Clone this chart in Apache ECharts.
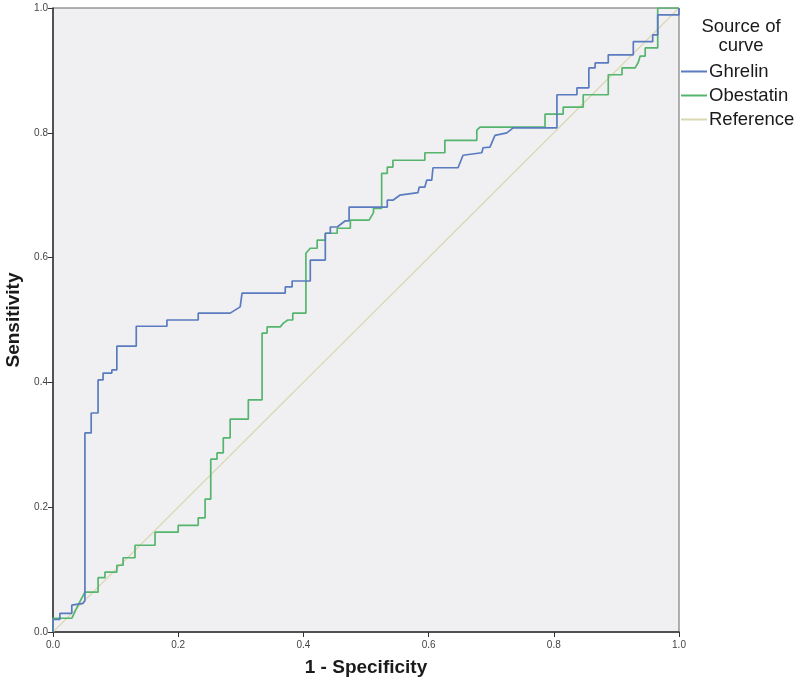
<!DOCTYPE html>
<html>
<head>
<meta charset="utf-8">
<script src="https://cdn.jsdelivr.net/npm/echarts@6/dist/echarts.min.js"></script>
<style>html,body{margin:0;padding:0;background:#fff}#c{width:800px;height:684px}</style>
</head>
<body>
<div id="c"></div>
<script>
// ROC curve data (1 - specificity, sensitivity)
var ghrelinX = [0,0,0.011,0.011,0.030,0.030,0.048,0.051,0.051,0.061,0.061,0.072,0.072,0.080,0.080,0.094,0.094,0.102,0.102,0.133,0.133,0.182,0.182,0.232,0.232,0.283,0.299,0.302,0.302,0.371,0.371,0.382,0.382,0.411,0.411,0.435,0.435,0.443,0.443,0.454,0.467,0.473,0.473,0.534,0.534,0.543,0.554,0.583,0.585,0.594,0.597,0.605,0.607,0.647,0.655,0.685,0.687,0.698,0.706,0.725,0.735,0.805,0.805,0.837,0.837,0.856,0.856,0.866,0.866,0.887,0.887,0.927,0.927,0.958,0.958,0.966,0.966,1,1];
var ghrelinY = [0,0.020,0.020,0.030,0.030,0.043,0.046,0.050,0.319,0.319,0.351,0.351,0.404,0.404,0.415,0.415,0.420,0.420,0.458,0.458,0.490,0.490,0.500,0.500,0.511,0.511,0.521,0.521,0.543,0.543,0.553,0.553,0.5625,0.5625,0.596,0.596,0.639,0.639,0.649,0.649,0.659,0.659,0.681,0.681,0.692,0.692,0.700,0.704,0.713,0.713,0.724,0.724,0.744,0.744,0.764,0.768,0.776,0.777,0.796,0.800,0.808,0.808,0.861,0.861,0.872,0.872,0.904,0.904,0.912,0.912,0.925,0.925,0.946,0.946,0.957,0.957,0.989,0.989,1];
var obestatinX = [0,0,0.030,0.040,0.051,0.072,0.072,0.083,0.083,0.102,0.102,0.112,0.112,0.131,0.131,0.163,0.163,0.200,0.200,0.232,0.232,0.243,0.243,0.252,0.252,0.262,0.262,0.272,0.272,0.283,0.283,0.312,0.312,0.334,0.334,0.342,0.342,0.363,0.368,0.375,0.383,0.383,0.404,0.404,0.411,0.422,0.422,0.435,0.435,0.454,0.454,0.475,0.475,0.505,0.512,0.512,0.525,0.525,0.534,0.534,0.543,0.543,0.594,0.594,0.626,0.626,0.677,0.677,0.682,0.786,0.786,0.815,0.815,0.847,0.847,0.887,0.887,0.909,0.909,0.930,0.935,0.938,0.946,0.946,0.966,0.966,1];
var obestatinY = [0,0.022,0.022,0.043,0.064,0.064,0.087,0.087,0.096,0.096,0.107,0.107,0.119,0.119,0.139,0.139,0.160,0.160,0.171,0.171,0.183,0.183,0.213,0.213,0.277,0.277,0.287,0.287,0.311,0.311,0.341,0.341,0.372,0.372,0.479,0.479,0.489,0.489,0.495,0.500,0.500,0.511,0.511,0.607,0.615,0.615,0.628,0.628,0.639,0.639,0.647,0.647,0.660,0.660,0.672,0.679,0.679,0.735,0.735,0.745,0.745,0.756,0.756,0.768,0.768,0.788,0.788,0.804,0.809,0.809,0.830,0.830,0.841,0.841,0.861,0.861,0.893,0.893,0.904,0.904,0.913,0.923,0.923,0.936,0.936,1.0,1.0];
var referenceX = [0,1];
var referenceY = [0,1];
var tickValues = [0,0.2,0.4,0.6,0.8,1.0];

function pairs(xs, ys){ return xs.map(function(x,i){ return [x, ys[i]]; }); }

var font = 'Arial, "Liberation Sans", sans-serif';
var chart = echarts.init(document.getElementById('c'), null, {renderer:'canvas'});
var axisCommon = {
  type:'value', min:tickValues[0], max:tickValues[tickValues.length-1], interval:0.2,
  axisLine:{show:true, onZero:false, lineStyle:{color:'#333', width:1.5}},
  axisTick:{show:true, length:5, lineStyle:{color:'#333', width:1}},
  axisLabel:{fontSize:10, color:'#444', fontFamily:font, formatter:function(v){return v.toFixed(1);}},
  splitLine:{show:false},
  nameLocation:'middle',
  nameTextStyle:{fontSize:19, fontWeight:'bold', color:'#1a1a1a', fontFamily:font}
};
chart.setOption({
  animation:false,
  backgroundColor:'#ffffff',
  grid:{left:53, right:121, top:8, bottom:52, containLabel:false, outerBoundsMode:'none', show:true, backgroundColor:'#f0f0f2', borderColor:'#666', borderWidth:1},
  xAxis:Object.assign({}, axisCommon, {name:'1 - Specificity', nameGap:26, axisLabel:Object.assign({}, axisCommon.axisLabel, {margin:8})}),
  yAxis:Object.assign({}, axisCommon, {name:'Sensitivity', nameGap:28, axisLabel:Object.assign({}, axisCommon.axisLabel, {margin:5})}),
  legend:{
    orient:'vertical', left:681, top:62, padding:0, itemGap:5, itemWidth:26, itemHeight:2, icon:'rect',
    textStyle:{fontSize:18.5, color:'#1a1a1a', fontFamily:font, padding:[0,0,0,-3]},
    data:['Ghrelin','Obestatin','Reference']
  },
  graphic:[{
    type:'text', x:741, y:17,
    style:{text:'Source of\ncurve', textAlign:'center', fontSize:18.5, lineHeight:19, fill:'#1a1a1a', fontFamily:font}
  }],
  series:[
    {name:'Reference', type:'line', data:pairs(referenceX, referenceY), showSymbol:false, symbol:'none', lineStyle:{color:'#d9d8b2', width:1.2}, itemStyle:{color:'#d9d8b2'}, z:1},
    {name:'Obestatin', type:'line', data:pairs(obestatinX, obestatinY), showSymbol:false, symbol:'none', lineStyle:{color:'#55b56e', width:1.7}, itemStyle:{color:'#55b56e'}, z:2},
    {name:'Ghrelin', type:'line', data:pairs(ghrelinX, ghrelinY), showSymbol:false, symbol:'none', lineStyle:{color:'#5a7bbf', width:1.7}, itemStyle:{color:'#5a7bbf'}, z:3}
  ]
});
</script>
</body>
</html>
